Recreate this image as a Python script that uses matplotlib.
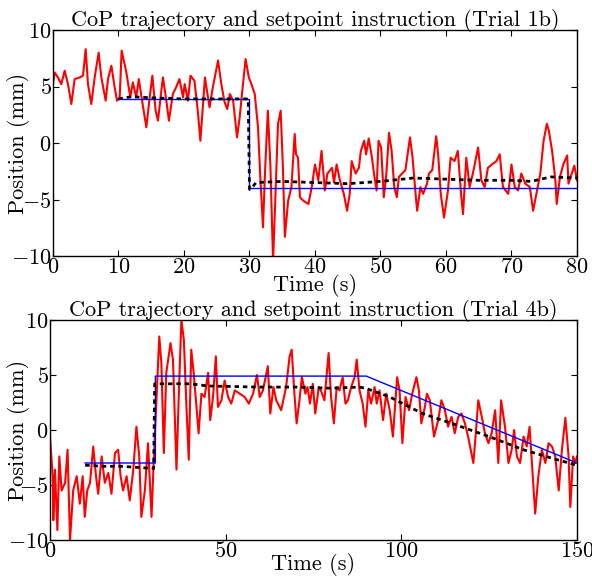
"""CoP trajectory vs setpoint, two trials."""

import numpy as np
import matplotlib
matplotlib.use('Agg')
import matplotlib.pyplot as plt

plt.rcParams['font.family'] = 'cmr10'
plt.rcParams['mathtext.fontset'] = 'cm'
plt.rcParams['axes.formatter.use_mathtext'] = True

# Trial 1b - measured CoP (red)
t1 = [0, 0.25, 0.76, 1.27, 1.78, 2.29, 2.8, 3.31, 4.07, 4.58, 4.99, 5.34, 5.85, 6.36, 6.97,
      7.38, 8.04, 8.4, 8.91, 9.41, 9.77, 10.18, 10.48, 11.2, 11.8, 12.2, 12.7, 13.1, 13.6,
      14.25, 14.76, 15.17, 15.67, 16.03, 16.54, 16.79, 17.3, 17.7, 18.3, 18.8, 19.3, 19.85,
      20.1, 20.6, 21.0, 21.6, 22.1, 22.5, 22.9, 23.2, 23.5, 23.9, 24.4, 25.2, 25.7, 26.2,
      26.6, 27.0, 27.5, 28.1, 28.5, 28.75, 29.4, 29.9, 30.3, 30.8, 31.3, 31.65, 32.06, 32.4,
      32.8, 33.2, 33.6, 34.0, 34.35, 34.76, 35.1, 35.4, 35.9, 36.4, 36.9,
      37.1, 37.4, 37.7, 38.2, 39.0, 39.5, 40.0, 40.5, 41.0, 41.5, 41.9, 42.6, 42.9, 43.3,
      43.8, 44.4, 44.9, 45.3, 45.6, 46.2, 46.7, 47.0, 47.5, 47.8, 48.2, 48.7, 49.0, 49.4,
      49.7, 50.1, 50.5, 50.9, 51.3, 51.7, 52.1, 52.5, 52.8, 53.3, 53.8, 54.5, 54.9, 55.4,
      55.6, 56.1, 56.5, 57.1, 57.4, 57.9, 58.5, 58.8, 59.2, 59.7, 60.3, 60.7, 61.3, 61.8,
      62.3, 62.6, 63.1, 63.6, 64.1, 64.9, 65.4, 65.9, 66.4, 67.0, 67.7, 68.2, 68.7, 69.5,
      70.0, 70.5, 71.0, 71.5, 72.1, 72.8, 73.3, 73.8, 74.4, 74.9, 75.4, 75.7, 76.2, 76.7,
      76.9, 77.4, 77.9, 78.5, 78.7, 79.2, 79.6, 80.0]
cop1 = [5.2, 6.25, 5.8, 5.2, 6.4, 5.2, 3.45, 5.66, 5.8, 5.96, 8.3, 5.2, 3.45, 5.8, 8.0,
        5.8, 3.75, 5.66, 6.84, 4.93, 3.75, 4.04, 8.17, 6.25, 4.04, 5.37, 4.04, 5.66, 3.75,
        1.39, 4.04, 5.96, 2.86, 1.98, 4.63, 5.81, 3.75, 1.98, 4.34, 4.93, 5.66, 4.04,
        5.22, 3.75, 5.96, 5.5, 2.86, 0.2, 3.45, 5.8, 4.63, 3.16, 4.93, 7.3, 5.2, 3.6,
        3.0, 4.34, 3.75, 0.5, 2.27, 3.75, 7.43, 5.8, 5.2, 4.34, 1.39, -3.04, -7.46, -2.15,
        2.86, -2.15, -10.5, -3.9, 1.68, 2.86, -2.15, -8.3, -5.1, -3.9, 0.8,
        -1.0, -1.3, -4.8, -5.1, -5.4, -3.9, -1.9, -3.3, -0.7, -4.2, -2.7, -2.2, -3.5, -1.9,
        -3.3, -4.5, -6.0, -4.5, -1.6, -2.7, -2.2, -0.7, 0.2, -1.0, 0.4, -1.3, -2.7, -4.2,
        0.2, -0.4, -4.8, -2.7, 0.9, -0.7, -3.9, -4.8, -3.0, -2.7, -2.4, 0.5, -1.3, -4.8,
        -6.0, -3.9, -4.5, -3.6, -2.7, -2.4, 0.6, -1.0, -4.5, -6.6, -4.2, -1.3, -1.6, -0.7,
        -4.5, -6.3, -1.3, -3.9, -2.7, -0.4, -3.3, -3.9, -2.2, -1.9, -1.6, -1.0, -3.9, -4.5,
        -1.9, -3.9, -4.2, -2.7, -3.6, -3.9, -6.0, -4.5, -2.7, 0.2, 1.7, 1.1, -0.7, -3.3,
        -5.4, -3.0, -1.9, -1.1, -3.6, -2.7, -2.0, -3.3]

# Trial 1b - setpoint (blue) and model estimate (black dashed)
sp1_t = [10, 30, 30, 80]
sp1_v = [3.9, 3.9, -4.0, -4.0]
est1_t = [10, 12, 15, 20, 25, 29.8, 30.0, 30.3, 31, 35, 40, 45, 50, 55, 60, 65, 70, 73, 76, 80]
est1_v = [3.9, 4.1, 4.0, 3.9, 3.9, 3.9, -4.1, -4.0, -3.5, -3.4, -3.5, -3.6, -3.4, -3.1,
          -3.2, -3.3, -3.3, -3.4, -3.0, -3.1]

# Trial 4b - measured CoP (red)
t4 = [0, 0.76, 0.95, 1.4, 2.1, 2.65, 3.3, 4.3, 5.0, 5.7, 6.6, 7.6, 8.5, 9.3, 9.9, 10.6,
      11.4, 12.3, 13.1, 13.7, 14.7, 15.6, 16.6, 17.5, 18.5, 19.4, 20.1, 20.8, 21.8, 22.7,
      23.7, 24.6, 25.4, 26.0, 27.0, 27.9, 28.9, 29.5, 30.3, 31.1, 31.7, 32.4, 33.1, 34.3,
      35.0, 36.0, 36.7, 37.4, 38.1, 38.8, 39.5, 40.2, 40.9, 41.7, 42.3, 43.1, 44.0, 45.0,
      45.6, 46.4, 47.2, 47.8, 48.8, 49.7, 50.7, 51.6, 52.6, 54.0, 55.4, 56.6, 57.8, 58.9,
      59.7, 60.6, 62.0, 62.7, 63.6, 64.4, 65.8, 67.2, 68.2, 68.8,
      69.5, 70.2, 71.0, 71.7, 72.7, 73.3, 74.0, 74.8, 75.5, 76.5, 77.1, 78.1, 79.3, 80.0,
      80.8, 81.6, 82.4, 83.3, 84.1, 84.8, 85.7, 86.7, 87.3, 88.1, 89.0, 89.8, 90.6, 91.4,
      92.4, 93.0, 93.8, 94.8, 95.7, 96.7, 97.6, 98.8, 99.5, 100.3, 101.2, 102.2, 103.1,
      104.3, 105.0, 105.7, 106.7, 107.3, 108.1, 109.3, 110.5, 111.4, 112.4, 113.3, 114.3,
      115.2, 116.2, 117.1, 118.1, 119.0, 120.5, 121.2, 121.9, 122.9, 123.8, 124.8, 125.7,
      126.7, 127.6, 128.4, 129.5, 130.5, 131.4, 132.1, 132.9, 133.8, 134.8, 135.7, 136.5,
      137.4, 138.1, 139.0, 140.0, 141.0, 141.9, 142.9, 143.8, 144.8, 145.7, 146.7, 147.6,
      148.1, 148.9, 149.5, 150.0]
cop4 = [-0.6, -4.2, -8.2, -3.6, -9.1, -2.4, -5.5, -4.8, -1.8, -10.0, -5.5, -4.2, -6.7, -4.2,
        -7.9, -5.5, -4.8, -1.5, -4.2, -5.8, -2.4, -4.8, -3.9, -5.8, -2.1, -1.8, -4.2, -5.5,
        -4.2, -6.4, -3.6, 0.3, -2.4, -7.9, -5.5, -1.2, -7.9, -3.0, 2.7, 8.5, 6.1, -2.1, 5.2,
        7.9, 6.4, -3.6, 3.6, 10.0, 8.2, 2.4, -2.7, 7.3, 5.2, 2.1, -0.3, 3.3, 3.0, 5.2,
        0.9, 3.0, 6.7, 2.1, 2.7, 4.5, 3.0, 2.4, 3.6, 3.3, 3.0, 2.4, 3.3, 5.0,
        3.0, 3.6, 5.8, 1.5, 3.9, 2.7, 1.8, 3.9, 6.7, 7.3,
        3.6, 0.6, 2.7, 4.8, 3.3, 3.9, 2.4, 4.2, 1.5, 3.9, 3.6, 2.7, 7.0, 3.0,
        0.6, 3.9, 3.6, 4.8, 2.4, 2.7, 3.9, 4.8, 6.4, 3.6, 2.4, 0.3, 3.6, 2.4,
        3.9, 2.4, 3.6, 0.9, 3.3, 1.8, -0.6, 4.8, 3.6, -1.2, 3.0, 1.8, 3.3,
        4.8, 3.6, 0.6, 2.1, 3.3, 2.7, -0.6, 0.9, 2.7, 1.8, 0.3, 1.2,
        -0.3, 1.2, 1.5, 0.6, -0.6, -3.0, -0.3, 2.7, 1.2, -0.3, -1.2, -0.3,
        1.8, -3.0, 2.7, 0.3, -3.0, -1.8, 0.0, -2.4, -3.0, -0.6, -1.5, 0.3,
        -4.2, -7.6, -4.2, -1.8, -3.0, -1.2, -1.5, -2.4, -5.5, -1.8, 1.1, -2.4,
        -7.0, -2.4, -3.0, -2.4]

# Trial 4b - setpoint (blue) and model estimate (black dashed)
sp4_t = [10, 30, 30, 90, 150]
sp4_v = [-3.0, -3.0, 4.9, 4.9, -3.0]
est4_t = [10, 15, 20, 25, 29.5, 29.8, 30.2, 31, 40, 45, 60, 70, 80, 88, 89.8, 96.7, 106,
          115.7, 125, 134.8, 144.3, 150]
est4_v = [-3.2, -3.3, -3.3, -3.4, -3.5, 4.2, 4.2, 4.2, 4.2, 4.0, 3.9, 3.9, 3.8, 3.9, 3.8,
          3.0, 1.5, 0.45, -0.6, -1.8, -2.7, -3.2]

fig = plt.figure(figsize=(5.92, 5.79), dpi=100)
ax1 = fig.add_axes([53 / 592, 1 - 256 / 579, 524 / 592, 226 / 579])
ax2 = fig.add_axes([50 / 592, 1 - 540 / 579, 527 / 592, 220 / 579])

panels = [
    (ax1, t1, cop1, sp1_t, sp1_v, est1_t, est1_v, 80, np.arange(0, 81, 10), 'Trial 1b',
     (-23 / 524, 0.5), (0.5, -18 / 226)),
    (ax2, t4, cop4, sp4_t, sp4_v, est4_t, est4_v, 150, [0, 50, 100, 150], 'Trial 4b',
     (-20 / 527, 0.5), (0.5, -13 / 220)),
]

fs = 16
for ax, t, cop, st, sv, et, ev, xmax, xt, name, ylc, xlc in panels:
    ax.plot(t, cop, color='#ff0000', lw=1.5)
    ax.plot(st, sv, color='#0000ff', lw=1.0)
    ax.plot(et, ev, color='black', lw=2.0, ls=(0, (1.6, 1.4)))
    ax.set_xlim(0, xmax)
    ax.set_ylim(-10, 10)
    ax.set_xticks(xt)
    ax.set_yticks([-10, -5, 0, 5, 10])
    ax.tick_params(direction='in', top=True, right=True, labelsize=fs, length=4, pad=1)
    ax.set_title('CoP trajectory and setpoint instruction (%s)' % name, fontsize=fs, pad=3)
    ax.set_xlabel('Time (s)', fontsize=fs)
    ax.set_ylabel('Position (mm)', fontsize=fs)
    ax.yaxis.set_label_coords(*ylc)
    ax.xaxis.set_label_coords(*xlc)
    for s in ax.spines.values():
        s.set_linewidth(1.0)

fig.savefig('out.png', dpi=100)
